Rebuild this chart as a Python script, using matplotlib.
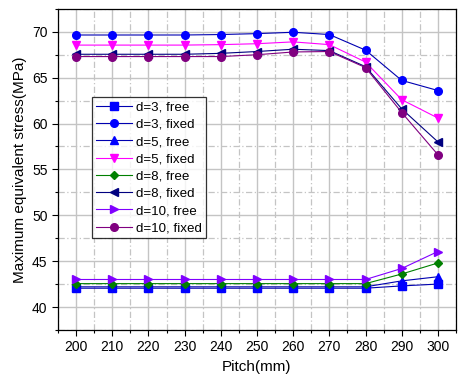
import matplotlib.pyplot as plt
from matplotlib.ticker import MultipleLocator

plt.rcParams['font.family'] = ['Liberation Sans', 'DejaVu Sans']

pitch = [200, 210, 220, 230, 240, 250, 260, 270, 280, 290, 300]

d3_free = [42.05, 42.05, 42.05, 42.05, 42.05, 42.05, 42.05, 42.05, 42.05, 42.3, 42.5]
d3_fixed = [69.65, 69.65, 69.65, 69.65, 69.7, 69.8, 69.95, 69.7, 68.0, 64.7, 63.6]
d5_free = [42.2, 42.2, 42.2, 42.2, 42.2, 42.2, 42.2, 42.2, 42.2, 42.85, 43.3]
d5_fixed = [68.55, 68.55, 68.55, 68.55, 68.6, 68.7, 68.9, 68.6, 66.7, 62.6, 60.6]
d8_free = [42.55, 42.55, 42.55, 42.55, 42.55, 42.55, 42.55, 42.55, 42.55, 43.6, 44.8]
d8_fixed = [67.55, 67.55, 67.55, 67.55, 67.65, 67.85, 68.1, 67.95, 66.2, 61.6, 58.0]
d10_free = [43.0, 43.0, 43.0, 43.0, 43.0, 43.0, 43.0, 43.0, 43.0, 44.2, 46.05]
d10_fixed = [67.3, 67.3, 67.3, 67.3, 67.3, 67.5, 67.8, 67.85, 66.1, 61.2, 56.6]

series = [
    ('d=3, free', d3_free, 's', '#0000FF', '#0000B0'),
    ('d=3, fixed', d3_fixed, 'o', '#0000FF', '#0000B0'),
    ('d=5, free', d5_free, '^', '#0000FF', '#0000B0'),
    ('d=5, fixed', d5_fixed, 'v', '#FF00FF', '#FF00FF'),
    ('d=8, free', d8_free, 'D', '#008000', '#008000'),
    ('d=8, fixed', d8_fixed, '<', '#000080', '#000080'),
    ('d=10, free', d10_free, '>', '#8000FF', '#8000FF'),
    ('d=10, fixed', d10_fixed, 'o', '#800080', '#800080'),
]

fig = plt.figure(figsize=(4.62, 3.85), dpi=100)
ax = fig.add_axes([0.1255, 0.143, 0.8615, 0.834])

for label, vals, mk, mc, lc in series:
    ms = 4.2 if mk == 'D' else 5.5
    ax.plot(pitch, vals, color=lc, lw=0.8, marker=mk, ms=ms,
            markerfacecolor=mc, markeredgecolor=mc, label=label)

ax.set_xlim(195, 305)
ax.set_ylim(37.5, 72.5)
ax.xaxis.set_major_locator(MultipleLocator(10))
ax.xaxis.set_minor_locator(MultipleLocator(5))
ax.yaxis.set_major_locator(MultipleLocator(5))
ax.yaxis.set_minor_locator(MultipleLocator(2.5))

ax.grid(which='major', color='#C4C4C4', lw=1.0, ls='-')
ax.grid(which='minor', color='#C4C4C4', lw=0.9, ls=(0, (5, 2, 1, 2)))
ax.set_axisbelow(True)

ax.tick_params(which='major', direction='out', length=4, width=0.8, labelsize=10)
ax.tick_params(which='minor', direction='out', length=2.5, width=0.8)
for s in ax.spines.values():
    s.set_linewidth(0.9)

ax.set_xlabel('Pitch(mm)', fontsize=11)
ax.set_ylabel('Maximum equivalent stress(MPa)', fontsize=11)

leg = ax.legend(loc='upper left', bbox_to_anchor=(0.085, 0.725), fontsize=9.6,
                frameon=True, fancybox=False, edgecolor='black',
                handlelength=2.7, handletextpad=0.3, labelspacing=0.37,
                borderpad=0.3, borderaxespad=0)
leg.get_frame().set_linewidth(0.9)

fig.savefig('out.png', dpi=100)
